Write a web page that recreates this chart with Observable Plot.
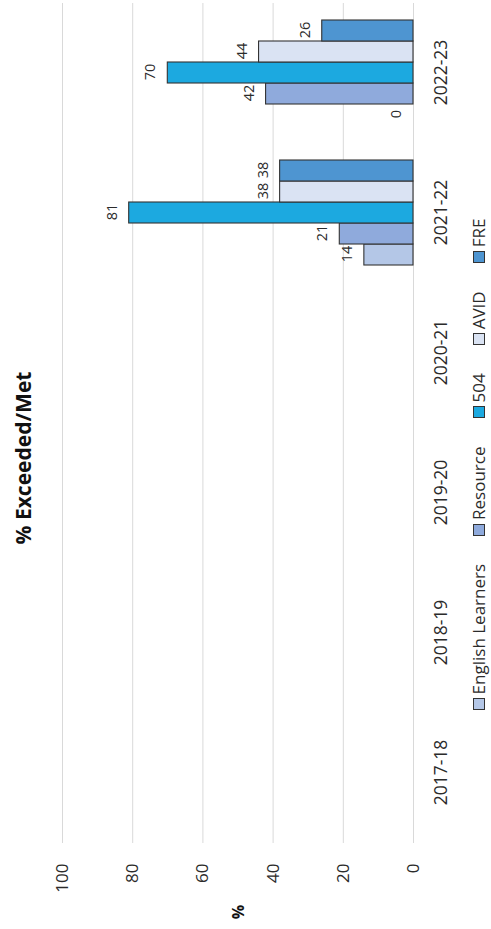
<!DOCTYPE html>
<html><head><meta charset="utf-8">
<script src="https://cdn.jsdelivr.net/npm/d3@7"></script>
<script src="https://cdn.jsdelivr.net/npm/@observablehq/plot@0.6"></script>
<style>
html,body{margin:0;padding:0;background:#fff;overflow:hidden;width:491px;height:929px;}
#chart{position:absolute;left:0;top:0;width:929px;height:491px;transform-origin:0 0;transform:translate(0,929px) rotate(-90deg);font-family:"Open Sans",sans-serif;color:#2b2b2b;background:#fff;}
#title{height:46px;line-height:46px;text-align:center;font-weight:bold;font-size:21px;color:#111;padding-left:13px;box-sizing:border-box;white-space:nowrap;}
#plot svg{display:block;}
#legend{height:18px;display:flex;justify-content:center;align-items:center;font-size:17px;line-height:18px;white-space:nowrap;}
.item{display:flex;align-items:center;margin:0 14px;}
.sw{width:10px;height:10px;border:1px solid #333;margin-right:4px;}
#ylab{position:absolute;left:0;width:34px;top:227px;text-align:center;font-weight:bold;font-size:16px;color:#111;}
</style></head>
<body>
<div id="chart">
  <div id="title">% Exceeded/Met</div>
  <div id="plot"></div>
  <div id="legend"></div>
  <div id="ylab">%</div>
</div>
<script>
const years = ["2017-18","2018-19","2019-20","2020-21","2021-22","2022-23"];
const series = ["English Learners","Resource","504","AVID","FRE"];
const colors = ["#b4c7e7","#8faadc","#1ca9e0","#dae3f3","#4e95d1"];
// values per year (null = no data shown)
const englishLearners = [null, null, null, null, 14, 0];
const resource = [null, null, null, null, 21, 42];
const s504 = [null, null, null, null, 81, 70];
const avid = [null, null, null, null, 38, 44];
const fre = [null, null, null, null, 38, 26];
const yTicks = [0, 20, 40, 60, 80, 100];

const seriesValues = [englishLearners, resource, s504, avid, fre];
const rows = [];
years.forEach((yr, i) => {
  series.forEach((s, j) => rows.push({year: yr, series: s, value: seriesValues[j][i]}));
});

const chart = Plot.plot({
  width: 929,
  height: 424,
  marginTop: 16,
  marginBottom: 57,
  marginLeft: 85,
  marginRight: 2,
  style: {fontFamily: "'Open Sans', sans-serif", fontSize: "17px", color: "#2b2b2b", background: "#fff", overflow: "visible"},
  fx: {domain: years, padding: 0, axis: null, label: null},
  x: {domain: series, paddingInner: 0, paddingOuter: 0.733, axis: null},
  y: {domain: [0, 100], axis: null},
  color: {domain: series, range: colors},
  marks: [
    Plot.gridY(yTicks, {stroke: "#d9d9d9", strokeOpacity: 1, strokeWidth: 1}),
    Plot.axisY(yTicks, {anchor: "left", tickSize: 0, tickPadding: 21, label: null, fontSize: 17}),
    Plot.axisFx({anchor: "bottom", tickSize: 0, tickPadding: 21, label: null, fontSize: 17.5}),
    Plot.barY(rows, {fx: "year", x: "series", y: d => (d.value > 0 ? d.value : NaN), fill: "series", stroke: "#333", strokeWidth: 1.1}),
    Plot.text(rows, {fx: "year", x: "series", y: d => (d.value == null ? NaN : d.value), text: d => (d.value == null ? null : String(d.value)), dy: -17, fontSize: 14.5, fill: "#2b2b2b"})
  ]
});
document.getElementById("plot").appendChild(chart);

const legend = document.getElementById("legend");
series.forEach((s, i) => {
  const it = document.createElement("div");
  it.className = "item";
  const sw = document.createElement("span");
  sw.className = "sw";
  sw.style.background = colors[i];
  const tx = document.createElement("span");
  tx.textContent = s;
  it.appendChild(sw); it.appendChild(tx);
  legend.appendChild(it);
});
</script>
</body></html>
